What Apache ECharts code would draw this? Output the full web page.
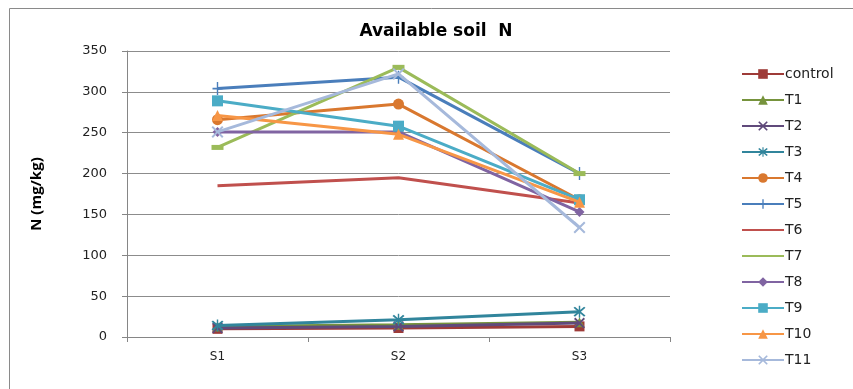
<!DOCTYPE html>
<html>
<head>
<meta charset="utf-8">
<script src="https://cdn.jsdelivr.net/npm/echarts@6/dist/echarts.min.js"></script>
<style>html,body{margin:0;padding:0;background:#fff}#c{width:853px;height:389px}</style>
</head>
<body>
<div id="c"></div>
<script>
const categories = ['S1', 'S2', 'S3'];
const yTicks = [0, 50, 100, 150, 200, 250, 300, 350];
const seriesNames = ['control', 'T1', 'T2', 'T3', 'T4', 'T5', 'T6', 'T7', 'T8', 'T9', 'T10', 'T11'];
const control = [10, 11, 13];
const T1 = [13, 15, 18];
const T2 = [11, 13, 17];
const T3 = [14, 21, 31];
const T4 = [266, 285, 168];
const T5 = [304, 318, 200];
const T6 = [185, 195, 164];
const T7 = [232, 330, 200];
const T8 = [251, 251, 153];
const T9 = [289, 258, 168];
const T10 = [271, 248, 165];
const T11 = [251, 322, 134];
const values = [control, T1, T2, T3, T4, T5, T6, T7, T8, T9, T10, T11];

const colors = ['#9E3B38', '#76933C', '#604A7B', '#31859C', '#D9782F', '#4A7EBB',
                '#C0504D', '#9BBB59', '#8064A2', '#4BACC6', '#F79646', '#A6B9DB'];
const X = 'path://M0,1.2 L1.2,0 L5,3.8 L8.8,0 L10,1.2 L6.2,5 L10,8.8 L8.8,10 L5,6.2 L1.2,10 L0,8.8 L3.8,5 Z';
const AST = 'path://M0,1.2 L1.2,0 L5,3.8 L8.8,0 L10,1.2 L6.2,5 L10,8.8 L8.8,10 L5,6.2 L1.2,10 L0,8.8 L3.8,5 Z M4.4,-1 L5.6,-1 L5.6,11 L4.4,11 Z';
const PLUS = 'path://M4.3,0 L5.7,0 L5.7,4.3 L10,4.3 L10,5.7 L5.7,5.7 L5.7,10 L4.3,10 L4.3,5.7 L0,5.7 L0,4.3 L4.3,4.3 Z';
const symbols = ['rect', 'triangle', X, AST, 'circle', PLUS, 'none', 'rect', 'diamond', 'rect', 'triangle', X];
const sizes = [10, 10, 11, 12, 11, [10, 13], 0, [12, 5], 10, 11, 11, 12];

const font = 'DejaVu Sans';
const chart = echarts.init(document.getElementById('c'), null, {renderer: 'canvas'});
chart.setOption({
  animation: false,
  backgroundColor: '#ffffff',
  title: {
    text: 'Available soil  N',
    left: 431, top: 18, textAlign: 'center',
    textStyle: {fontFamily: font, fontWeight: 'bold', fontSize: 17, color: '#000'}
  },
  graphic: [{
    type: 'rect', shape: {x: 9.5, y: 8.5, width: 900, height: 450},
    style: {fill: 'none', stroke: '#8a8a8a', lineWidth: 1}, silent: true, z: -1
  }],
  legend: {
    orient: 'vertical', left: 736, top: 62,
    itemWidth: 42, itemHeight: 12, itemGap: 12,
    textStyle: {fontFamily: font, fontSize: 14, lineHeight: 12, color: '#222', padding: [0, 0, 0, -4]},
    data: seriesNames.map(n => (n === 'T6' || n === 'T7') ? {name: n, itemStyle: {opacity: 0}} : {name: n})
  },
  grid: {left: 127, right: 183, top: 51, bottom: 52, containLabel: false},
  xAxis: {
    type: 'category', data: categories, boundaryGap: true,
    axisLine: {lineStyle: {color: '#868686', width: 1}},
    axisTick: {show: true, length: 5, lineStyle: {color: '#868686'}},
    axisLabel: {fontFamily: font, fontSize: 12, color: '#222', margin: 14}
  },
  yAxis: {
    type: 'value', min: yTicks[0], max: yTicks[yTicks.length - 1], interval: 50,
    name: 'N (mg/kg)', nameLocation: 'middle', nameGap: 83, nameRotate: 90,
    nameTextStyle: {fontFamily: 'Open Sans', fontWeight: 'bold', fontSize: 15, color: '#000'},
    axisLine: {show: true, lineStyle: {color: '#868686'}},
    axisTick: {show: true, length: 5, lineStyle: {color: '#868686'}},
    axisLabel: {fontFamily: font, fontSize: 13, color: '#222', margin: 20},
    splitLine: {lineStyle: {color: '#8c8c8c', width: 1}}
  },
  series: seriesNames.map((n, i) => ({
    name: n, type: 'line', data: values[i],
    symbol: symbols[i], symbolSize: sizes[i], showSymbol: symbols[i] !== 'none',
    lineStyle: {color: colors[i], width: 3},
    itemStyle: {color: colors[i]},
    z: 2 + i
  }))
});
</script>
</body>
</html>
